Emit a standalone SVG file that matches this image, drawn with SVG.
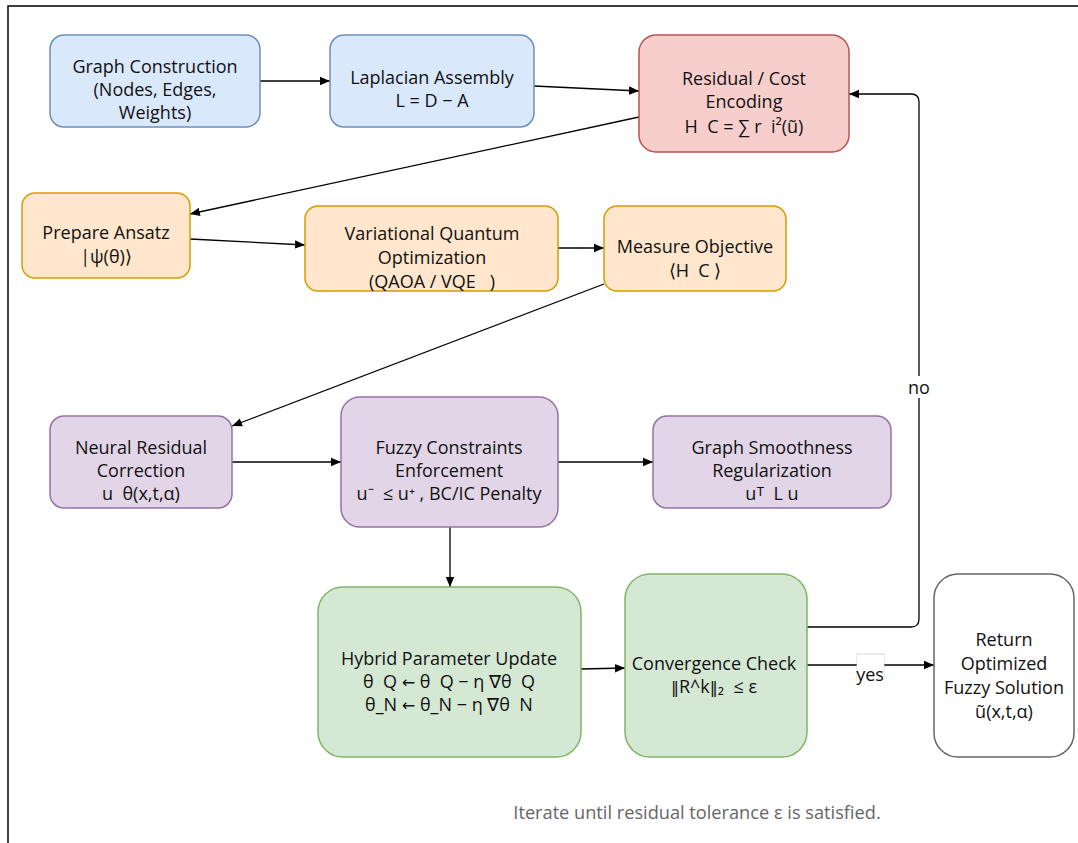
<svg xmlns="http://www.w3.org/2000/svg" width="1078" height="843" viewBox="0 0 1078 843">
<style>
text{font-family:"Open Sans","Liberation Sans",sans-serif;font-size:18px;fill:#111;text-anchor:middle;white-space:pre}
.sym{font-family:"DejaVu Sans",sans-serif;font-size:16px}
.blue{fill:#dae8fc;stroke:#6c8ebf;stroke-width:1.5}
.red{fill:#f8cecc;stroke:#b85450;stroke-width:1.5}
.org{fill:#ffe6cc;stroke:#d79b00;stroke-width:1.5}
.pur{fill:#e1d5e7;stroke:#9673a6;stroke-width:1.5}
.grn{fill:#d5e8d4;stroke:#82b366;stroke-width:1.5}
.wht{fill:#fff;stroke:#666;stroke-width:1.5}
.edge{fill:none;stroke:#000;stroke-width:1.3;marker-end:url(#arr)}
.note{fill:#666;font-size:18.2px}
</style>
<defs>
<marker id="arr" viewBox="0 0 10 10" refX="10" refY="5" markerWidth="10" markerHeight="10" markerUnits="userSpaceOnUse" orient="auto">
<path d="M0,0.8 L10,5 L0,9.2 Z" fill="#000"/>
</marker>
</defs>
<rect width="1078" height="843" fill="#fff"/>
<path d="M8,843 V6 H1078" fill="none" stroke="#000" stroke-width="1.5"/>

<g id="connectors">
<path class="edge" d="M260,81 H330"/>
<path class="edge" d="M534,86 L639,91"/>
<path class="edge" d="M639,117 L190,214"/>
<path class="edge" d="M190,239 L305,245"/>
<path class="edge" d="M558,248 H604"/>
<path class="edge" d="M604,284 L232,426"/>
<path class="edge" d="M232,462 H341"/>
<path class="edge" d="M558,462 H653"/>
<path class="edge" d="M450,527 V587"/>
<path class="edge" d="M581,669 L625,668"/>
<path class="edge" d="M807,665 H934"/>
<path class="edge" d="M807,627 H911 Q919,627 919,619 V102 Q919,94 911,94 H849"/>
<rect x="857" y="654" width="27" height="26" fill="#fff" stroke="#ccc" stroke-width="0.8"/>
<rect x="857" y="655" width="27" height="26" fill="#fff"/>
<text x="870" y="681">yes</text>
<rect x="906" y="376" width="26" height="22" fill="#fff"/>
<text x="919" y="394">no</text>
</g>

<g id="graph-construction">
<rect class="blue" x="50" y="35" width="210" height="92" rx="14"/>
<text x="155" y="73">Graph Construction</text>
<text x="155" y="96">(Nodes, Edges,</text>
<text x="155" y="119">Weights)</text>
</g>
<g id="laplacian-assembly">
<rect class="blue" x="330" y="35" width="204" height="92" rx="14"/>
<text x="432" y="84">Laplacian Assembly</text>
<text x="432" y="107">L = D − A</text>
</g>
<g id="residual-cost">
<rect class="red" x="639" y="35" width="210" height="117" rx="17"/>
<text x="744" y="85">Residual / Cost</text>
<text x="744" y="108">Encoding</text>
<text x="744" y="133">H  C = ∑ r  i²(ũ)</text>
</g>
<g id="prepare-ansatz">
<rect class="org" x="22" y="193" width="168" height="85" rx="13"/>
<text x="106" y="239">Prepare Ansatz</text>
<text x="106" y="263">|ψ(θ)⟩</text>
</g>
<g id="vqo">
<rect class="org" x="305" y="206" width="253" height="85" rx="13"/>
<text x="432" y="240">Variational Quantum</text>
<text x="432" y="264">Optimization</text>
<text x="432" y="288">(QAOA / VQE   )</text>
</g>
<g id="measure-objective">
<rect class="org" x="604" y="206" width="182" height="85" rx="13"/>
<text x="695" y="253">Measure Objective</text>
<text x="695" y="277">⟨H  C ⟩</text>
</g>
<g id="neural-residual">
<rect class="pur" x="50" y="416" width="182" height="92" rx="14"/>
<text x="141" y="454">Neural Residual</text>
<text x="141" y="477">Correction</text>
<text x="141" y="500">u  θ(x,t,α)</text>
</g>
<g id="fuzzy-constraints">
<rect class="pur" x="341" y="397" width="217" height="130" rx="19"/>
<text x="449" y="454">Fuzzy Constraints</text>
<text x="449" y="477">Enforcement</text>
<text x="449" y="500">u⁻  ≤ u⁺ , BC/IC Penalty</text>
</g>
<g id="graph-smoothness">
<rect class="pur" x="653" y="416" width="238" height="92" rx="14"/>
<text x="772" y="454">Graph Smoothness</text>
<text x="772" y="477">Regularization</text>
<text x="772" y="500">uᵀ  L u</text>
</g>
<g id="hybrid-update">
<rect class="grn" x="318" y="587" width="263" height="170" rx="25"/>
<text x="449" y="665">Hybrid Parameter Update</text>
<text x="449" y="688">θ  Q <tspan class="sym">←</tspan> θ  Q − η ∇θ  Q</text>
<text x="449" y="711">θ_N <tspan class="sym">←</tspan> θ_N − η ∇θ  N</text>
</g>
<g id="convergence-check">
<rect class="grn" x="625" y="574" width="182" height="183" rx="25"/>
<text x="714" y="670">Convergence Check</text>
<text x="714" y="693"><tspan class="sym">‖</tspan>R^k<tspan class="sym">‖</tspan>₂  ≤ ε</text>
</g>
<g id="return-solution">
<rect class="wht" x="934" y="574" width="140" height="183" rx="24"/>
<text x="1004" y="646">Return</text>
<text x="1004" y="670">Optimized</text>
<text x="1004" y="694">Fuzzy Solution</text>
<text x="1004" y="718">ũ(x,t,α)</text>
</g>
<text class="note" x="697" y="819">Iterate until residual tolerance ε is satisfied.</text>
</svg>
